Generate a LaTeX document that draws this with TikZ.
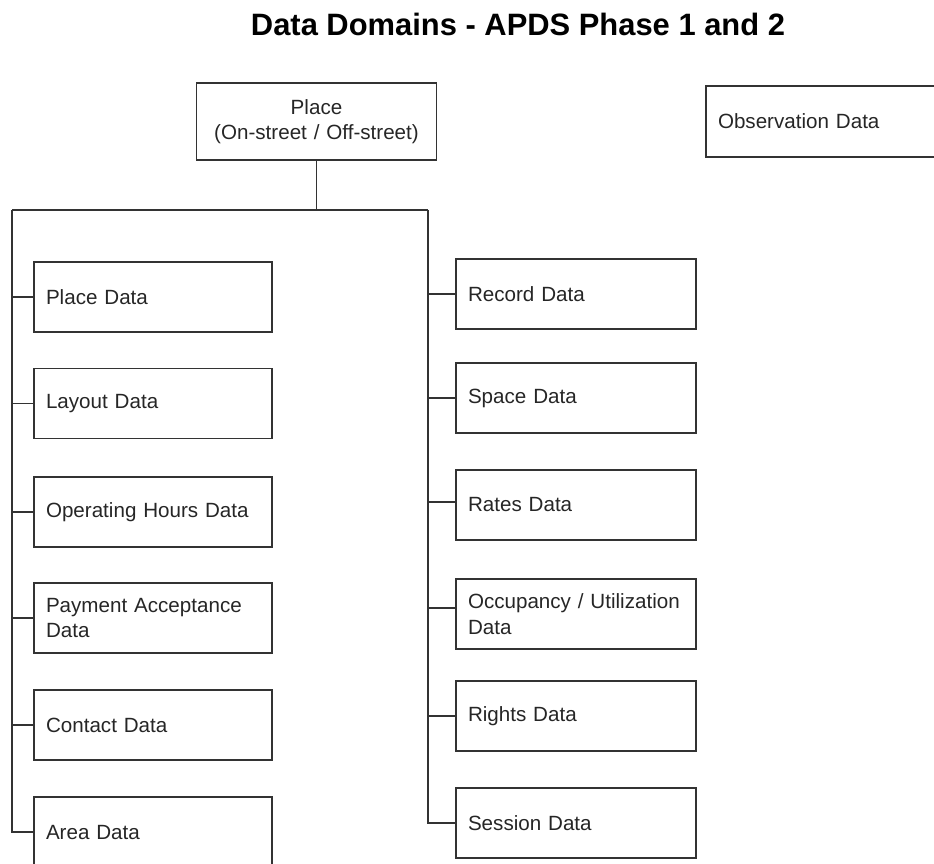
\documentclass[tikz,border=0pt]{standalone}
\usepackage{fontspec}
\setmainfont{Liberation Sans}
\usetikzlibrary{calc}

\begin{document}
\begin{tikzpicture}[x=1pt,y=-1pt,
        databox/.style={draw=black!80,line width=1.5pt,rectangle,minimum height=70pt,
            text width=214pt,inner xsep=12pt,inner ysep=6pt,align=left,
            font=\fontsize{20.6}{25.5}\selectfont,text=black!85},
        wide/.style={text width=216pt},
        link/.style={draw=black!80,line width=1.3pt}]
                \useasboundingbox (0,0) rectangle (934,863);
                \node[font=\bfseries\fontsize{30.9}{36}\selectfont] (title) at (518,24) {Data Domains - APDS Phase 1 and 2};
                \node[databox,wide,minimum height=77pt,align=center] (place) at (316.5,121.5) {Place\\(On-street / Off-street)};
                \node[databox,wide,minimum height=71pt] (observation) at (826,121.5) {Observation Data};
                % left column
                \node[databox] (placedata) at (153,297) {Place Data};
                \node[databox] (layout) at (153,403.5) {Layout Data};
                \node[databox] (hours) at (153,512) {Operating Hours Data};
                \node[databox] (payment) at (153,618) {Payment Acceptance\\Data};
                \node[databox] (contact) at (153,725) {Contact Data};
                \node[databox] (area) at (153,832) {Area Data};
                % right column
                \node[databox,wide] (record) at (576,294) {Record Data};
                \node[databox,wide] (space) at (576,398) {Space Data};
                \node[databox,wide] (rates) at (576,505) {Rates Data};
                \node[databox,wide] (occupancy) at (576,614) {Occupancy / Utilization\\Data};
                \node[databox,wide] (rights) at (576,716) {Rights Data};
                \node[databox,wide] (session) at (576,823) {Session Data};
                \coordinate (split) at (316.5,210);
                \coordinate (lefttrunk) at (12,210);
                \coordinate (righttrunk) at (428,210);
                \draw[link] (place) -- (split);
                \draw[link] (lefttrunk) -- (righttrunk);
                \draw[link] (lefttrunk) |- (placedata.west);
                \draw[link] (lefttrunk) |- (layout.west);
                \draw[link] (lefttrunk) |- (hours.west);
                \draw[link] (lefttrunk) |- (payment.west);
                \draw[link] (lefttrunk) |- (contact.west);
                \draw[link] (lefttrunk) |- (area.west);
                \draw[link] (righttrunk) |- (record.west);
                \draw[link] (righttrunk) |- (space.west);
                \draw[link] (righttrunk) |- ([yshift=3pt]rates.west);
                \draw[link] (righttrunk) |- ([yshift=6pt]occupancy.west);
                \draw[link] (righttrunk) |- (rights.west);
                \draw[link] (righttrunk) |- (session.west);
                \draw[link,line width=2.2pt] (righttrunk |- record.west) -- (righttrunk |- {$(occupancy.west)+(0,-6)$});
            \end{tikzpicture}
\end{document}
